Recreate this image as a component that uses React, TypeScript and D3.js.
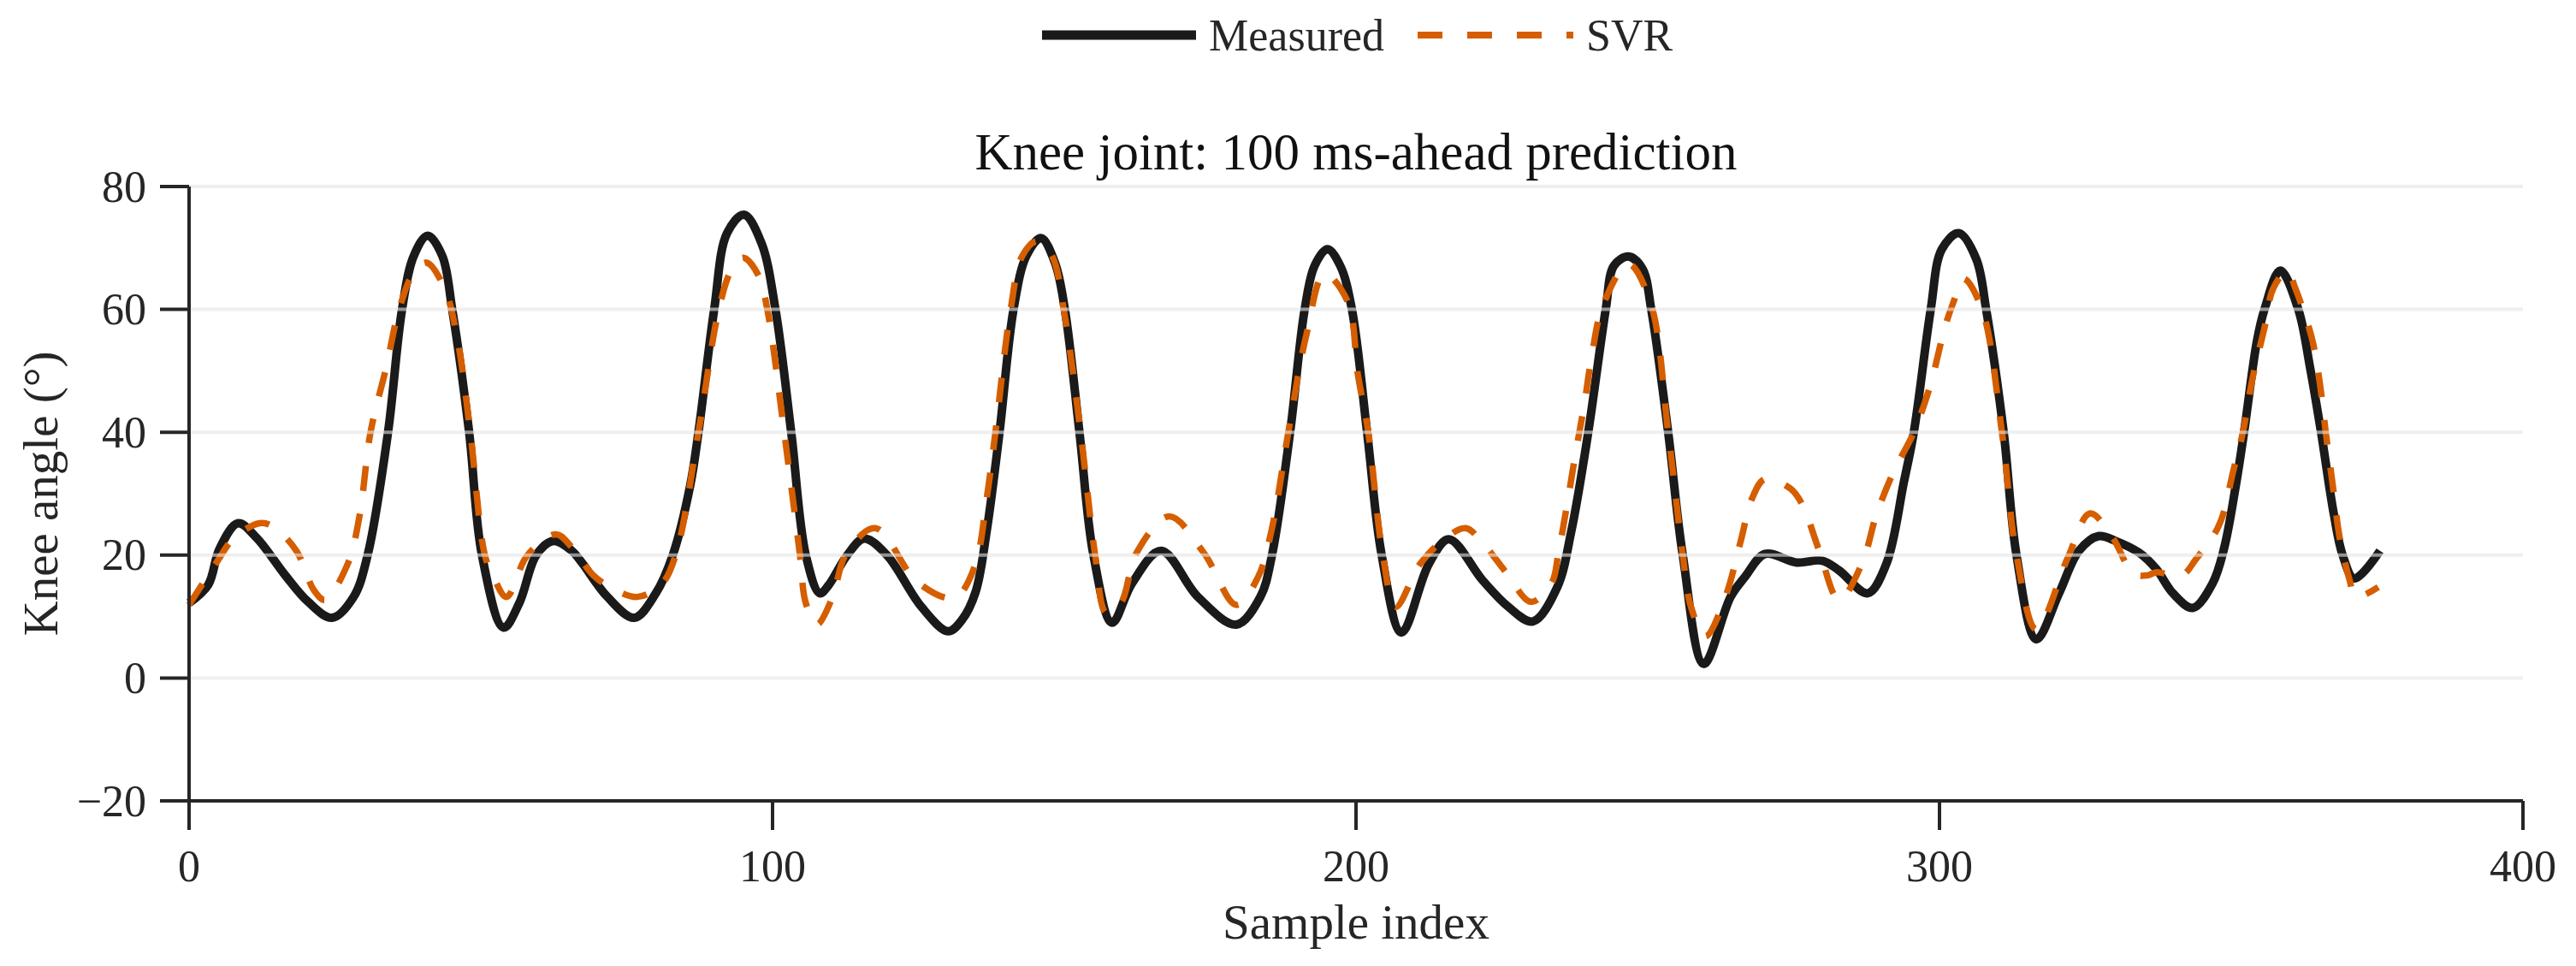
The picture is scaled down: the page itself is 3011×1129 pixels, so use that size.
import React from "react";
import * as d3 from "d3";

// ---- data ----
const measured: [number, number][] = [
  [0, 12.2], [3.3, 15.2], [5.2, 21.0], [8.4, 25.2], [11.6, 22.8], [16.5, 16.7], [20.4, 12.4], [24.5, 9.8],
  [28.2, 13.2], [30.6, 20], [34.1, 40], [36.5, 60], [38.5, 68.7], [40.9, 72.0], [43.4, 68.7], [45.1, 60],
  [48.0, 40], [50.2, 20], [53.9, 8.2], [56.6, 12.2], [59.5, 20], [62.4, 22.3], [65.5, 20.8], [67.3, 18.8],
  [71.7, 13.2], [76.3, 9.8], [80.0, 13.8], [82.9, 20], [85.9, 31.4], [87.3, 40], [90.0, 60], [92.2, 72.4],
  [95.1, 75.4], [98.1, 70.8], [100.5, 60], [103.2, 40], [105.7, 20], [108.1, 13.8], [109.6, 15.1], [112.8, 20],
  [115.7, 22.7], [119.6, 20], [125.5, 11.6], [130.1, 7.6], [132.5, 9.5], [134.8, 14.0], [136.7, 23.9], [138.9, 40],
  [141.3, 60], [143.5, 68.7], [146.0, 71.6], [148.4, 67.6], [150.1, 60], [152.6, 40], [155.0, 20], [158.2, 9.0],
  [161.6, 15.4], [166.6, 20.7], [172.9, 13.2], [179.5, 8.7], [183.6, 13.2], [185.6, 20], [188.7, 40], [191.2, 60],
  [192.9, 67.1], [195.1, 69.8], [197.3, 67.1], [199.3, 60], [201.9, 40], [204.4, 20], [207.8, 7.4], [212.5, 18.6],
  [215.9, 22.6], [221.7, 15.9], [226.1, 11.6], [230.3, 9.2], [234.5, 14.8], [236.9, 23.9], [239.8, 40], [242.8, 60],
  [244.2, 67.1], [246.7, 68.6], [249.1, 66.6], [250.6, 60], [253.5, 40], [256.0, 20], [259.6, 2.3], [264.2, 13.2],
  [266.7, 16.5], [270.1, 20.2], [275.5, 18.8], [279.9, 19.1], [282.8, 17.5], [287.7, 13.8], [290.9, 18.6], [293.9, 31.9],
  [295.6, 40], [298.5, 60], [300.4, 69.8], [303.3, 72.4], [306.3, 68.2], [308.0, 60], [311.0, 40], [313.2, 20],
  [316.6, 6.3], [320.5, 13.8], [323.9, 20.7], [327.3, 23.1], [330.2, 22.3], [334.2, 20.4], [337.1, 17.8], [340.0, 13.8],
  [343.4, 11.4], [346.8, 15.4], [348.8, 21.2], [350.8, 31.4], [352.2, 40], [354.4, 54.8], [355.7, 60], [358.4, 66.3],
  [361.5, 60], [363.5, 50.6], [365.4, 40], [367.6, 26.6], [369.1, 20], [371.1, 16.2], [375.5, 20.7],
];

const svr: [number, number][] = [
  [0, 11.9], [4.7, 18.8], [7.7, 22.8], [12.1, 25.2], [14.3, 24.7], [18.4, 20.7], [21.4, 14.3], [23.3, 12.7],
  [27.2, 18.6], [29.2, 26.3], [31.1, 40], [33.8, 50.6], [36.0, 60], [38.5, 66], [40.7, 67.6], [43.8, 63.4],
  [46.0, 55.1], [48.2, 40], [50.7, 20], [52.2, 16.4], [54.4, 13.2], [58.0, 20], [62.9, 23.4], [65.4, 21.5],
  [69.3, 16.7], [72.2, 14.8], [76.8, 13.2], [81.0, 15.3], [83.4, 20], [87.3, 40], [90.8, 60], [93.0, 66.5],
  [95.0, 68.4], [97.6, 65.5], [99.1, 60], [102.0, 40], [104.7, 20], [105.7, 12.2], [107.6, 8.7], [110.3, 13.2],
  [112.5, 20], [117.6, 24.4], [124.5, 15.9], [129.9, 13.0], [131.8, 13.3], [134.8, 18.6], [136.7, 29.2], [138.2, 40],
  [140.8, 60], [142.8, 68.7], [145.3, 71.1], [147.9, 68.7], [149.9, 60], [152.8, 40], [155.3, 20], [157.2, 10.6],
  [159.7, 12.2], [162.4, 20.4], [168.0, 26.3], [173.9, 20.4], [179.5, 11.9], [183.2, 16.4], [185.6, 24.4], [188.4, 40],
  [191.5, 55.9], [194.6, 65.8], [198.6, 61.2], [200.3, 49.5], [202.1, 40], [204.6, 20], [206.8, 11.6], [211.0, 18.6],
  [215.4, 22.8], [218.8, 24.4], [221.7, 22.0], [225.7, 17.2], [230.0, 12.4], [233.5, 15.4], [234.7, 20.4], [236.2, 28.4],
  [237.6, 36.4], [239.1, 44.4], [240.4, 52.4], [242.3, 60.6], [246.7, 67.4], [250.5, 61], [253.5, 40], [256.0, 20],
  [257.4, 11.6], [259.9, 6.8], [263.3, 13.2], [265.8, 21.8], [268.0, 29.5], [270.1, 32.4], [274.5, 30.8], [276.5, 28.2],
  [279.4, 20.7], [282.8, 12.7], [286.7, 18.6], [289.2, 26.6], [292.1, 33.5], [295.6, 40], [298.5, 47.9], [300.9, 57],
  [302.4, 61.2], [304.1, 65], [307.3, 60], [310.7, 40], [313.2, 20], [316.6, 7.9], [322.0, 19.6], [325.8, 26.8],
  [329.7, 22.8], [333.2, 17.0], [335.6, 16.7], [337.1, 17.2], [341.5, 16.7], [344.0, 19.4], [347.4, 23.9], [348.6, 26.6],
  [350.3, 33.5], [352.0, 40], [353.7, 49], [355.7, 57], [357.2, 63.4], [359.6, 66.3], [361.0, 63.4], [363.8, 55.4],
  [365.2, 47.9], [366.2, 40], [367.4, 31.4], [368.6, 22.8], [370.3, 15.9], [371.3, 13.2], [375.2, 14.8],
];

const xTicks = [0, 100, 200, 300, 400];
const yTicks = [-20, 0, 20, 40, 60, 80];
const gridValues = [0, 20, 40, 60, 80];
const seriesNames = ["Measured", "SVR"];
const titleText = "Knee joint: 100 ms-ahead prediction";
const xLabel = "Sample index";
const yLabel = "Knee angle (°)";

// ---- layout ----
const W = 3011;
const H = 1129;
const FONT = "'Liberation Serif', 'Times New Roman', serif";
const AXIS = "#262626";
const BLACK = "#1a1a1a";
const ORANGE = "#D55E00";

export default function App() {
  const x = d3.scaleLinear().domain([0, 400]).range([221, 2949]);
  const y = d3.scaleLinear().domain([-20, 80]).range([936, 218]);
  const line = d3
    .line<[number, number]>()
    .x((d) => x(d[0]))
    .y((d) => y(d[1]))
    .curve(d3.curveCatmullRom.alpha(0.5));

  const tickLen = 34;
  const midX = (x(0) + x(400)) / 2;
  const midY = (y(-20) + y(80)) / 2;

  return (
    <div style={{ position: "absolute", left: 0, top: 0, width: W, height: H, background: "#fff" }}>
      <svg width={W} height={H} viewBox={`0 0 ${W} ${H}`} style={{ display: "block" }}>
        <rect x={0} y={0} width={W} height={H} fill="#fff" />

        {/* series */}
        <path d={line(measured) || ""} fill="none" stroke={BLACK} strokeWidth={10} strokeLinejoin="round" />
        <path
          d={line(svr) || ""}
          fill="none"
          stroke={ORANGE}
          strokeWidth={7.5}
          strokeDasharray="29 27"
          strokeLinejoin="round"
        />

        {/* grid on top */}
        {gridValues.map((v) => (
          <line
            key={"g" + v}
            x1={x(0)}
            x2={x(400)}
            y1={y(v)}
            y2={y(v)}
            stroke="#e4e4e4"
            strokeOpacity={0.6}
            strokeWidth={4}
          />
        ))}

        {/* axes */}
        <line x1={x(0)} x2={x(0)} y1={y(80)} y2={y(-20)} stroke={AXIS} strokeWidth={4} />
        <line x1={x(0)} x2={x(400)} y1={y(-20)} y2={y(-20)} stroke={AXIS} strokeWidth={4} />
        {yTicks.map((v) => (
          <g key={"yt" + v}>
            <line x1={x(0) - tickLen} x2={x(0)} y1={y(v)} y2={y(v)} stroke={AXIS} strokeWidth={4} />
            <text
              x={x(0) - 50}
              y={y(v) + 17.5}
              textAnchor="end"
              fontFamily={FONT}
              fontSize={52}
              fill={AXIS}
            >
              {v < 0 ? "\u2212" + Math.abs(v) : String(v)}
            </text>
          </g>
        ))}
        {xTicks.map((v) => (
          <g key={"xt" + v}>
            <line x1={x(v)} x2={x(v)} y1={y(-20)} y2={y(-20) + tickLen} stroke={AXIS} strokeWidth={4} />
            <text x={x(v)} y={1030} textAnchor="middle" fontFamily={FONT} fontSize={52} fill={AXIS}>
              {String(v)}
            </text>
          </g>
        ))}

        {/* labels */}
        <text x={midX} y={1097} textAnchor="middle" fontFamily={FONT} fontSize={57} fill={AXIS}>
          {xLabel}
        </text>
        <text
          transform={`translate(67, ${midY}) rotate(-90)`}
          textAnchor="middle"
          fontFamily={FONT}
          fontSize={57}
          fill={AXIS}
        >
          {yLabel}
        </text>
        <text x={midX} y={198} textAnchor="middle" fontFamily={FONT} fontSize={61} fill="#111">
          {titleText}
        </text>

        {/* legend */}
        <line x1={1218} x2={1398} y1={41} y2={41} stroke={BLACK} strokeWidth={11} />
        <text x={1413} y={59} fontFamily={FONT} fontSize={52} fill={AXIS}>
          {seriesNames[0]}
        </text>
        <line
          x1={1657}
          x2={1839}
          y1={41}
          y2={41}
          stroke={ORANGE}
          strokeWidth={8}
          strokeDasharray="29 29"
        />
        <text x={1854} y={59} fontFamily={FONT} fontSize={52} fill={AXIS}>
          {seriesNames[1]}
        </text>
      </svg>
    </div>
  );
}
